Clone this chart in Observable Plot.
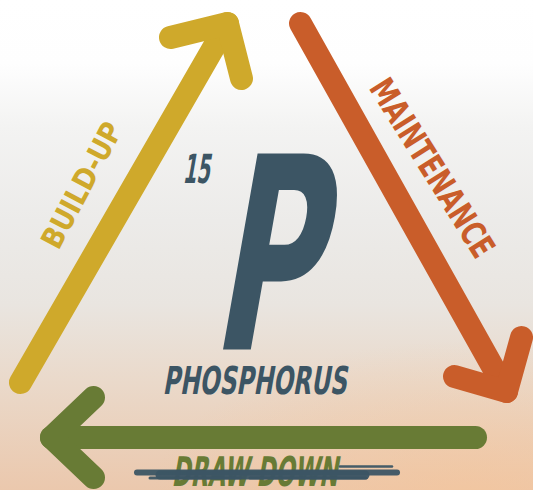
<!DOCTYPE html>
<html>
<head>
<meta charset="utf-8">
<script src="https://cdn.jsdelivr.net/npm/d3@7"></script>
<script src="https://cdn.jsdelivr.net/npm/@observablehq/plot@0.6"></script>
<style>
  html, body { margin: 0; padding: 0; width: 533px; height: 490px; overflow: hidden; }
  body {
    background:
      radial-gradient(ellipse 320px 160px at 470px 500px, rgba(247,196,150,0.55), rgba(247,196,150,0) 100%),
      linear-gradient(to bottom, #ffffff 0%, #fefefe 13%, #f3f3f2 26%, #ecebe9 45%, #e9e5e0 62%, #ead9ca 78%, #ebc8ad 100%);
  }
  #chart svg { display: block; }
</style>
</head>
<body>
<div id="chart"></div>
<script>
// ---- data ----
const stages = ["BUILD-UP", "MAINTENANCE", "DRAW DOWN"];
const stageColors = ["#cfa92b", "#c95d2a", "#687b35"];
// arrow shafts (start, end)
const shaftX = [[20, 227], [300, 506], [475, 51]];
const shaftY = [[382, 23], [23, 391], [437, 437]];
// arrow heads: wing, tip, wing
const headX = [[170, 227, 241], [454, 506, 521], [93, 51, 93]];
const headY = [[37, 23, 78], [376, 391, 337], [397, 437, 477]];
// stage labels: centre, rotation, length, size
const labelX = [82, 431, 254];
const labelY = [185, 168, 485];
const labelRotate = [-62, 58, 0];
const labelLength = [138, 204, 166];
const labelSize = [30, 34, 41];
const labelSkew = [0, 0, -10];

const atomicNumber = "15";
const elementSymbol = "P";
const elementName = "PHOSPHORUS";
const elementColor = "#3c5564";

// brush strike through "DRAW DOWN"
const brushX1 = [137, 160, 340, 150, 250];
const brushX2 = [397, 365, 392, 240, 366];
const brushY = [472, 474.5, 466, 477.5, 477.5];
const brushW = [6, 9, 2.5, 3, 3];

// ---- build tables ----
const lines = [];
stages.forEach((s, i) => {
  shaftX[i].forEach((x, j) => lines.push({id: s + "-shaft", stage: s, x, y: shaftY[i][j]}));
  headX[i].forEach((x, j) => lines.push({id: s + "-head", stage: s, x, y: headY[i][j]}));
});
const labels = stages.map((s, i) => ({text: s, x: labelX[i], y: labelY[i], rotate: labelRotate[i], color: stageColors[i], size: labelSize[i]}));
const brush = brushX1.map((x1, i) => ({x1, x2: brushX2[i], y: brushY[i], w: brushW[i]}));

const fit = {};
stages.forEach((s, i) => fit[s] = {len: labelLength[i], skew: labelSkew[i]});
fit[atomicNumber] = {len: 27, skew: -10};
fit[elementSymbol] = {len: 108, skew: -10};
fit[elementName] = {len: 184, skew: -10};

const font = "DejaVu Sans Condensed, Liberation Sans Narrow, sans-serif";

const plot = Plot.plot({
  width: 533,
  height: 490,
  margin: 0,
  style: {background: "transparent", overflow: "hidden"},
  x: {domain: [0, 533], range: [0, 533], axis: null},
  y: {domain: [0, 490], range: [0, 490], axis: null},
  color: {domain: stages, range: stageColors},
  marks: [
    Plot.line(lines.filter(d => d.stage === "DRAW DOWN"), {x: "x", y: "y", z: "id", stroke: "stage", strokeWidth: 23, strokeLinecap: "round", strokeLinejoin: "round"}),
    Plot.line(lines.filter(d => d.stage !== "DRAW DOWN"), {x: "x", y: "y", z: "id", stroke: "stage", strokeWidth: 23, strokeLinecap: "round", strokeLinejoin: "round"}),
    Plot.text(labels.filter(d => d.rotate !== 0), {x: "x", y: "y", text: "text", fill: "color", fontSize: "size", rotate: "rotate", fontFamily: font, fontWeight: "bold", textAnchor: "middle", lineAnchor: "middle"}),
    Plot.text(labels.filter(d => d.rotate === 0), {x: "x", y: "y", text: "text", fill: "color", fontSize: "size", fontFamily: font, fontWeight: "bold", textAnchor: "middle", lineAnchor: "bottom"}),
    Plot.ruleY(brush, {x1: "x1", x2: "x2", y: "y", strokeWidth: "w", stroke: elementColor, strokeLinecap: "round", strokeOpacity: 0.95}),
    Plot.text([atomicNumber], {x: () => 195.5, y: () => 182, text: d => d, fill: elementColor, fontSize: 40, fontFamily: font, fontWeight: "bold", textAnchor: "middle", lineAnchor: "bottom"}),
    Plot.text([elementSymbol], {x: () => 263, y: () => 349, text: d => d, fill: elementColor, fontSize: 269, fontFamily: font, fontWeight: "bold", textAnchor: "middle", lineAnchor: "bottom"}),
    Plot.text([elementName], {x: () => 254, y: () => 393, text: d => d, fill: elementColor, fontSize: 38.5, fontFamily: font, fontWeight: "bold", textAnchor: "middle", lineAnchor: "bottom"})
  ]
});
document.getElementById("chart").appendChild(plot);

// fit text lengths and slant
plot.querySelectorAll("text").forEach(t => {
  const f = fit[t.textContent];
  if (!f) return;
  t.setAttribute("textLength", f.len);
  t.setAttribute("lengthAdjust", "spacingAndGlyphs");
  if (f.skew) {
    const tr = t.getAttribute("transform") || "";
    t.setAttribute("transform", tr + ` skewX(${f.skew})`);
  }
});
</script>
</body>
</html>
